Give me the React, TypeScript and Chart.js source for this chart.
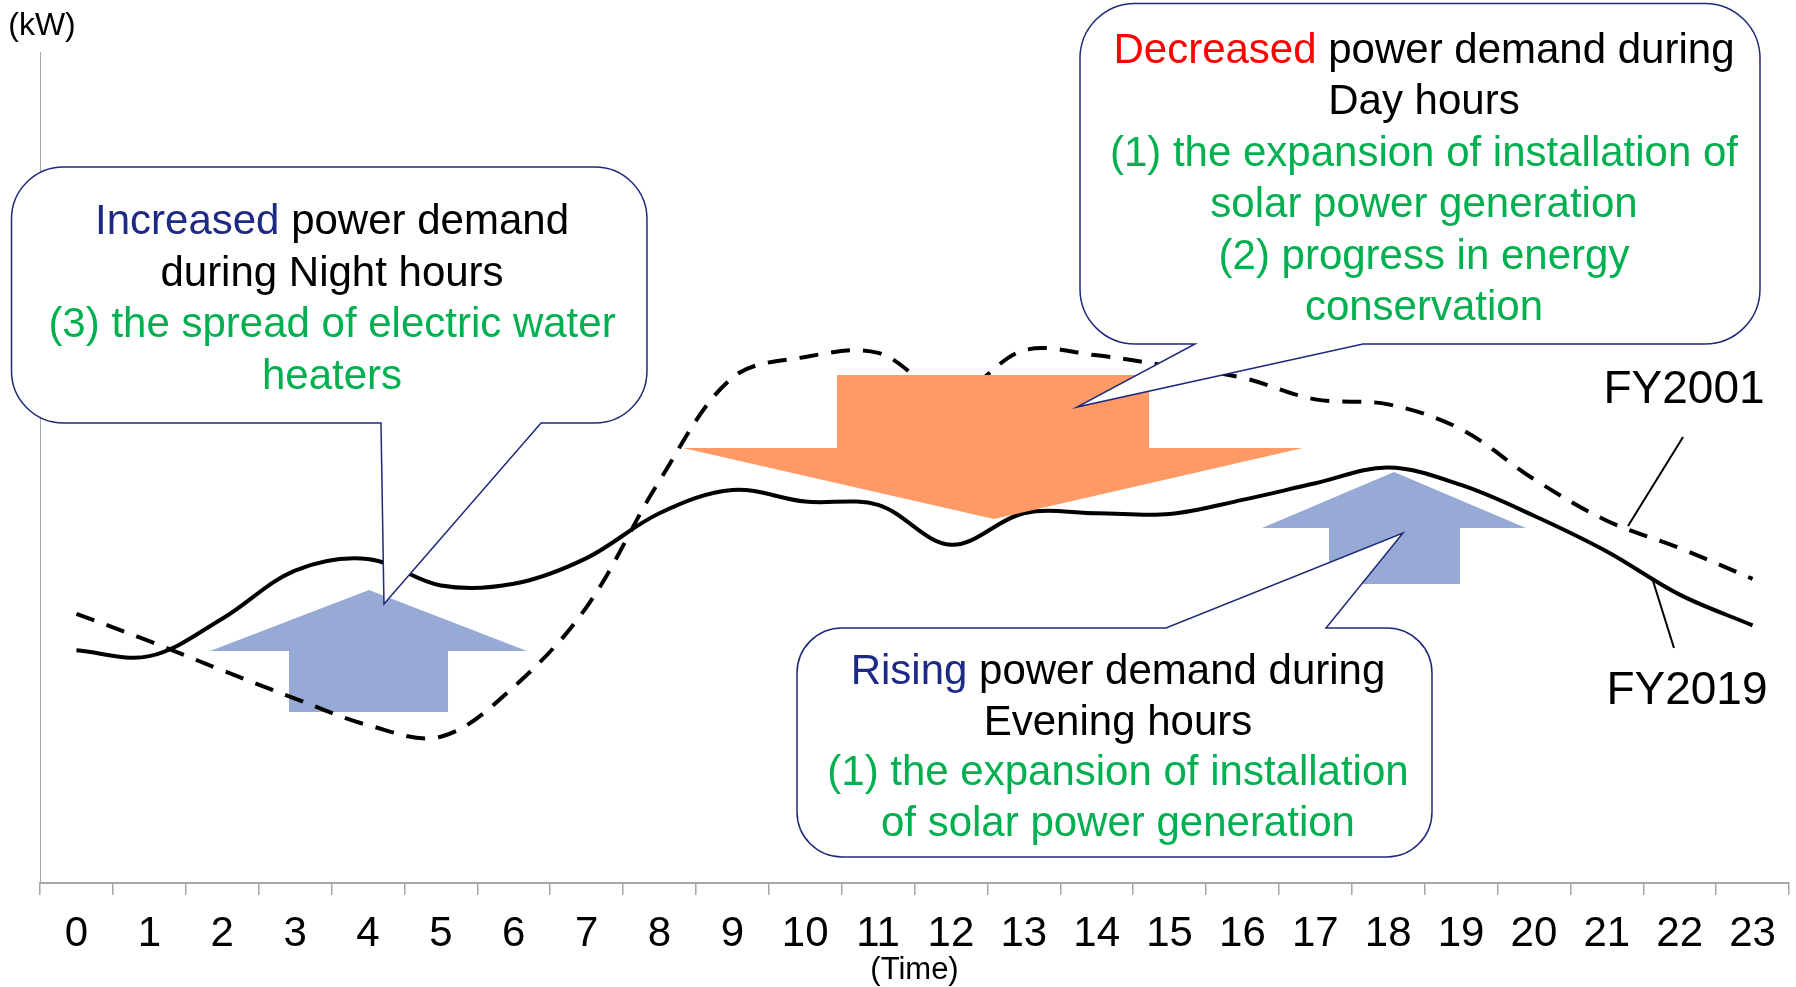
import React, { useEffect, useRef } from 'react';
import { Chart, registerables } from 'chart.js';

Chart.register(...registerables);

// ---------- data ----------
const hours = ['0','1','2','3','4','5','6','7','8','9','10','11','12','13','14','15','16','17','18','19','20','21','22','23'];
const fy2019 = [28.0, 27.3, 31.8, 37.6, 39.0, 35.8, 36.0, 39.1, 44.5, 47.3, 45.9, 45.5, 40.7, 44.5, 44.5, 44.4, 46.1, 48.1, 50.0, 47.9, 44.2, 39.9, 34.7, 31.0];
const fy2001 = [32.4, 29.1, 25.6, 22.2, 19.0, 17.6, 23.6, 33.2, 48.4, 60.8, 63.3, 63.8, 58.7, 64.1, 63.5, 62.2, 60.8, 58.2, 57.6, 54.6, 48.6, 43.6, 40.3, 36.6];
const seriesNames = ['FY2019', 'FY2001'];
const yUnit = '(kW)';
const xTitle = '(Time)';

// ---------- styles ----------
const NAVY = '#1c2a86';
const GREEN = '#00b050';
const RED = '#ff0000';
const BLUE_ARROW = '#97aad5';
const ORANGE_ARROW = '#ff9966';
const AXIS_GRAY = '#a6a6a6';
const SANS = '"Liberation Sans", Arial, sans-serif';
const NARROW = '"Liberation Sans Narrow", "Arial Narrow", "Liberation Sans", Arial, sans-serif';
const TEXT_SHIFT = 3.5; // px, visual centring of text lines

// ---------- annotations (positions in data units: hour, kW) ----------
type Seg = { t: string; c: string };
const callouts = [
  {
    box: [-0.891, 86.16, 7.829, 55.35], radius: 52, side: 'bottom',
    base: [4.179, 6.375], tip: [4.220, 33.57],
    textX: 3.507, textY: 79.9, gap: 51.5,
    lines: [
      [{ t: 'Increased', c: NAVY }, { t: ' power demand', c: '#000' }],
      [{ t: 'during Night hours', c: '#000' }],
      [{ t: '(3) the spread of electric water', c: GREEN }],
      [{ t: 'heaters', c: GREEN }],
    ] as Seg[][],
  },
  {
    box: [13.771, 105.85, 23.102, 64.86], radius: 55, side: 'bottom',
    base: [15.349, 17.654], tip: [13.730, 57.28],
    textX: 18.491, textY: 100.48, gap: 51.4,
    lines: [
      [{ t: 'Decreased', c: RED }, { t: ' power demand during', c: '#000' }],
      [{ t: 'Day hours', c: '#000' }],
      [{ t: '(1) the expansion of installation of', c: GREEN }],
      [{ t: 'solar power generation', c: GREEN }],
      [{ t: '(2) progress in energy', c: GREEN }],
      [{ t: 'conservation', c: GREEN }],
    ] as Seg[][],
  },
  {
    box: [9.888, 30.69, 18.601, 3.13], radius: 45, side: 'top',
    base: [14.951, 17.147], tip: [18.203, 42.12],
    textX: 14.292, textY: 25.75, gap: 50.7,
    lines: [
      [{ t: 'Rising', c: NAVY }, { t: ' power demand during', c: '#000' }],
      [{ t: 'Evening hours', c: '#000' }],
      [{ t: '(1) the expansion of installation', c: GREEN }],
      [{ t: 'of solar power generation', c: GREEN }],
    ] as Seg[][],
  },
];

// arrows: shaft [left, right, end], head [left, right, base], tip [x, y]
const blueArrows = [
  { shaft: [2.917, 5.099, 20.58], head: [1.833, 6.183, 27.92], tip: [4.015, 35.26] },
  { shaft: [17.188, 18.985, 35.98], head: [16.268, 19.891, 42.72], tip: [18.080, 49.46] },
];
const orangeArrow = { shaft: [10.437, 14.718, 61.13], head: [8.323, 16.831, 52.35], tip: [12.591, 43.80] };

const seriesLabels = [
  { text: 'FY2001', at: [22.059, 59.69], leader: [[22.046, 53.67], [21.291, 42.96]] },
  { text: 'FY2019', at: [22.100, 23.47], leader: [[21.634, 36.34], [21.922, 28.28]] },
];

function drawArrow(ctx: CanvasRenderingContext2D, X: (h: number) => number, Y: (v: number) => number, a: any, color: string) {
  const [sl, sr, se] = a.shaft;
  const [hl, hr, hb] = a.head;
  ctx.save();
  ctx.fillStyle = color;
  ctx.beginPath();
  ctx.moveTo(X(sl), Y(se));
  ctx.lineTo(X(sl), Y(hb));
  ctx.lineTo(X(hl), Y(hb));
  ctx.lineTo(X(a.tip[0]), Y(a.tip[1]));
  ctx.lineTo(X(hr), Y(hb));
  ctx.lineTo(X(sr), Y(hb));
  ctx.lineTo(X(sr), Y(se));
  ctx.closePath();
  ctx.fill();
  ctx.restore();
}

function drawCallout(ctx: CanvasRenderingContext2D, X: (h: number) => number, Y: (v: number) => number, c: any) {
  const L = X(c.box[0]), T = Y(c.box[1]), R = X(c.box[2]), B = Y(c.box[3]);
  const r = c.radius;
  const b1 = X(c.base[0]), b2 = X(c.base[1]);
  const tx = X(c.tip[0]), ty = Y(c.tip[1]);
  ctx.save();
  ctx.beginPath();
  ctx.moveTo(L + r, T);
  if (c.side === 'top') { ctx.lineTo(b1, T); ctx.lineTo(tx, ty); ctx.lineTo(b2, T); }
  ctx.lineTo(R - r, T);
  ctx.arcTo(R, T, R, T + r, r);
  ctx.lineTo(R, B - r);
  ctx.arcTo(R, B, R - r, B, r);
  if (c.side === 'bottom') { ctx.lineTo(b2, B); ctx.lineTo(tx, ty); ctx.lineTo(b1, B); }
  ctx.lineTo(L + r, B);
  ctx.arcTo(L, B, L, B - r, r);
  ctx.lineTo(L, T + r);
  ctx.arcTo(L, T, L + r, T, r);
  ctx.closePath();
  ctx.fillStyle = '#ffffff';
  ctx.fill();
  ctx.strokeStyle = '#1f2a7a';
  ctx.lineWidth = 1.5;
  ctx.lineJoin = 'miter';
  ctx.stroke();

  ctx.font = `42px ${SANS}`;
  ctx.textBaseline = 'middle';
  ctx.textAlign = 'left';
  const cx = X(c.textX);
  const y0 = Y(c.textY) + TEXT_SHIFT;
  c.lines.forEach((segs: Seg[], i: number) => {
    const total = segs.reduce((s, g) => s + ctx.measureText(g.t).width, 0);
    let x = cx - total / 2;
    const y = y0 + i * c.gap;
    segs.forEach((g) => {
      ctx.fillStyle = g.c;
      ctx.fillText(g.t, x, y);
      x += ctx.measureText(g.t).width;
    });
  });
  ctx.restore();
}

const annotationPlugin = {
  id: 'annotations',
  beforeDatasetsDraw(chart: any) {
    const ctx = chart.ctx;
    const X = (h: number) => chart.scales.x.getPixelForValue(h);
    const Y = (v: number) => chart.scales.y.getPixelForValue(v);
    blueArrows.forEach((a) => drawArrow(ctx, X, Y, a, BLUE_ARROW));
  },
  afterDatasetsDraw(chart: any) {
    const ctx = chart.ctx;
    const X = (h: number) => chart.scales.x.getPixelForValue(h);
    const Y = (v: number) => chart.scales.y.getPixelForValue(v);
    drawArrow(ctx, X, Y, orangeArrow, ORANGE_ARROW);
    callouts.forEach((c) => drawCallout(ctx, X, Y, c));

    ctx.save();
    ctx.strokeStyle = '#000';
    ctx.lineWidth = 2;
    seriesLabels.forEach((s) => {
      ctx.beginPath();
      ctx.moveTo(X(s.leader[0][0]), Y(s.leader[0][1]));
      ctx.lineTo(X(s.leader[1][0]), Y(s.leader[1][1]));
      ctx.stroke();
    });
    ctx.fillStyle = '#000';
    ctx.font = `46px ${SANS}`;
    ctx.textAlign = 'center';
    ctx.textBaseline = 'middle';
    seriesLabels.forEach((s) => ctx.fillText(s.text, X(s.at[0]), Y(s.at[1]) + TEXT_SHIFT));

    // unit label
    const area = chart.chartArea;
    ctx.font = `32px ${SANS}`;
    ctx.fillText(yUnit, area.left + 2, area.top - 26);
    ctx.restore();
  },
};

export default function App() {
  const canvasRef = useRef<HTMLCanvasElement | null>(null);

  useEffect(() => {
    if (!canvasRef.current) return;
    const chart = new Chart(canvasRef.current, {
      type: 'line',
      data: {
        labels: hours,
        datasets: [
          {
            label: seriesNames[0],
            data: fy2019,
            borderColor: '#000',
            borderWidth: 4,
            pointRadius: 0,
            tension: 0.35,
            fill: false,
          },
          {
            label: seriesNames[1],
            data: fy2001,
            borderColor: '#000',
            borderWidth: 4,
            borderDash: [19, 13],
            pointRadius: 0,
            tension: 0.35,
            fill: false,
          },
        ],
      },
      options: {
        responsive: false,
        animation: false,
        devicePixelRatio: 1,
        layout: { padding: { top: 52, right: 7, left: 0, bottom: 0 } },
        plugins: { legend: { display: false }, tooltip: { enabled: false } },
        scales: {
          x: {
            type: 'category',
            offset: true,
            grid: {
              display: true,
              offset: true,
              drawOnChartArea: false,
              drawTicks: true,
              tickLength: 12,
              color: AXIS_GRAY,
              lineWidth: 1.5,
            },
            border: { display: true, color: AXIS_GRAY, width: 2 },
            ticks: {
              color: '#000',
              padding: 14,
              autoSkip: false,
              maxRotation: 0,
              font: (ctx: any) => ({ family: ctx.index >= 10 ? NARROW : SANS, size: 42 }),
            },
            title: {
              display: true,
              text: xTitle,
              color: '#000',
              font: { family: SANS, size: 31, lineHeight: 1.0 },
              padding: { top: 0, bottom: 1 },
            },
            afterFit: (s: any) => { s.height = 104; },
          },
          y: {
            type: 'linear',
            min: 0,
            max: 100,
            ticks: { display: false },
            grid: { display: false, drawTicks: false },
            border: { display: true, color: AXIS_GRAY, width: 1 },
            afterFit: (s: any) => { s.width = 40; },
          },
        },
      },
      plugins: [annotationPlugin],
    } as any);
    return () => chart.destroy();
  }, []);

  return (
    <div style={{ position: 'absolute', left: 0, top: 0, width: 1796, height: 987, background: '#fff' }}>
      <canvas ref={canvasRef} width={1796} height={987} style={{ display: 'block' }} />
    </div>
  );
}
